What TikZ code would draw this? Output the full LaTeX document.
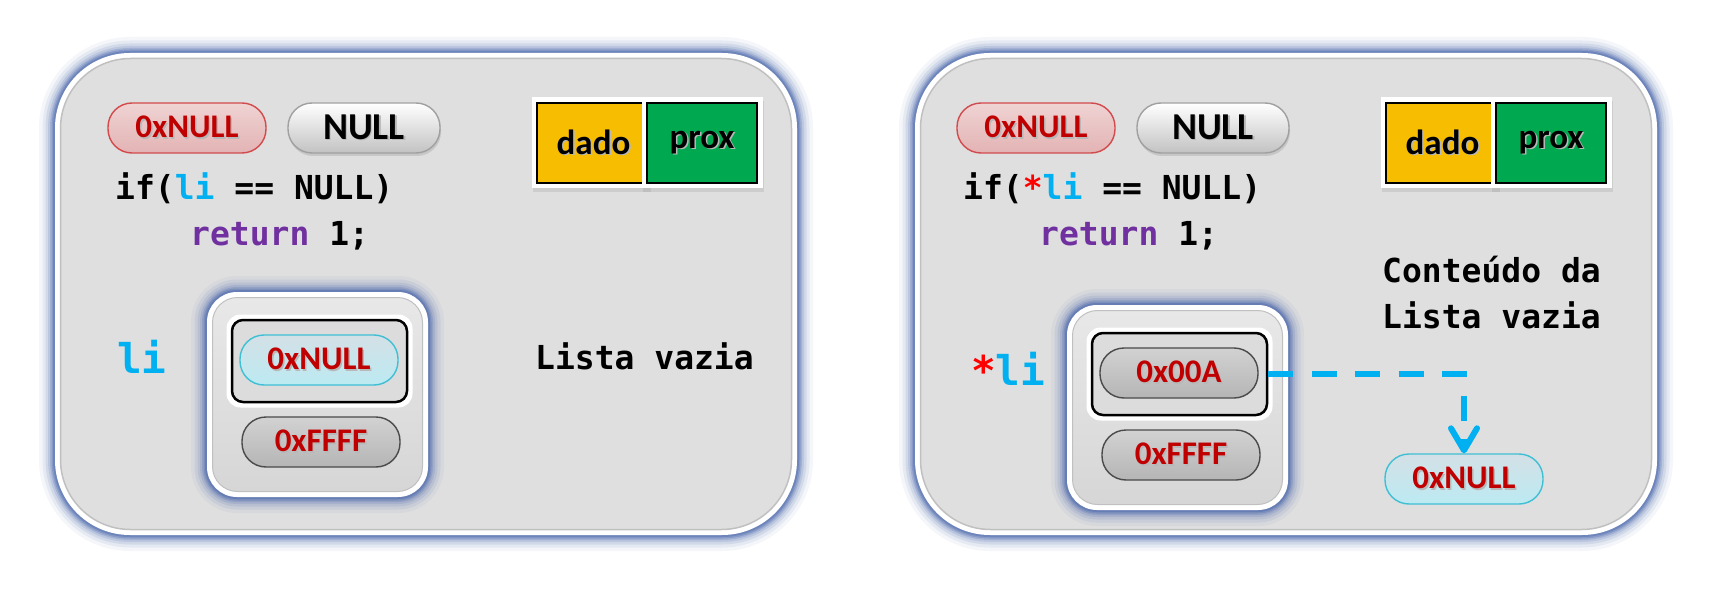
\documentclass[tikz,border=0pt]{standalone}
\usepackage{fontspec}
\setmainfont{Carlito}
\newfontfamily\codefont{DejaVu Sans Mono}
\usetikzlibrary{arrows.meta,shadows}
\definecolor{glowblue}{HTML}{4A68AC}
\definecolor{panelgray}{HTML}{DFDFDF}
\definecolor{paneledge}{HTML}{C0C0C0}
\definecolor{codeblue}{HTML}{00B0F0}
\definecolor{codepurple}{HTML}{7030A0}
\definecolor{darkred}{HTML}{C00000}
\definecolor{astred}{HTML}{FF0000}
\definecolor{dadoyellow}{HTML}{F7BD00}
\definecolor{proxgreen}{HTML}{00A850}
\definecolor{redpilltop}{HTML}{EFD3D3}
\definecolor{redpillbot}{HTML}{E3B3B4}
\definecolor{redpilledge}{HTML}{D24A4C}
\definecolor{cyantop}{HTML}{D3E0E6}
\definecolor{cyanbot}{HTML}{BCEAF2}
\definecolor{cyanedge}{HTML}{3FBFD4}
\definecolor{graytop}{HTML}{D2D2D2}
\definecolor{graybot}{HTML}{B5B5B5}
\definecolor{grayedge}{HTML}{4A4A4A}
\definecolor{nulltop}{HTML}{FFFFFF}
\definecolor{nullbot}{HTML}{C2C2C2}
\definecolor{nulledge}{HTML}{A0A0A0}
\definecolor{boxtop}{HTML}{E8E8E8}
\definecolor{boxbot}{HTML}{D6D6D6}
\definecolor{selfill}{HTML}{DCDCDC}

\newcommand\myglow[5]{%
  \foreach \w/\o in {32/0.06,25/0.09,19/0.12,14/0.16,10/0.22,7/0.3,4/0.42}{%
    \draw[glowblue, line width=\w pt, opacity=\o, rounded corners=#5pt] (#1,#2) rectangle (#3,#4);}}
\newcommand\shtxt[1]{\makebox[0pt][l]{\hspace{1.5pt}\raisebox{-1.5pt}{\color{black!28}#1}}#1}

\tikzset{
  pill/.style={rectangle, rounded corners=24pt, minimum width=158pt, minimum height=50pt,
    inner sep=0pt, line width=1.4pt, font=\fontsize{33}{33}\selectfont\bfseries, text=darkred},
  redpill/.style={pill, draw=redpilledge, top color=redpilltop, bottom color=redpillbot},
  nullpill/.style={pill, draw=nulledge, top color=nulltop, bottom color=nullbot, text=black,
    font=\fontsize{38}{38}\selectfont\bfseries,
    drop shadow={opacity=0.25, shadow xshift=1pt, shadow yshift=-3pt}},
  cyanpill/.style={pill, draw=cyanedge, top color=cyantop, bottom color=cyanbot},
  graypill/.style={pill, draw=grayedge, top color=graytop, bottom color=graybot},
  code/.style={font=\codefont\bfseries\fontsize{33}{40}\selectfont, anchor=base west, inner sep=0pt},
  biglabel/.style={font=\codefont\bfseries\fontsize{41}{48}\selectfont, anchor=base west,
    inner sep=0pt, text=codeblue},
  panelframe/.style={rectangle, rounded corners=75pt, fill=white, minimum width=742pt,
    minimum height=482pt, inner sep=0pt},
  panelfill/.style={rectangle, rounded corners=70pt, fill=panelgray, draw=paneledge,
    line width=1.5pt, minimum width=731pt, minimum height=471pt, inner sep=0pt},
  memframe/.style={rectangle, rounded corners=30pt, fill=white, minimum width=221pt,
    minimum height=205pt, inner sep=0pt},
  memfill/.style={rectangle, rounded corners=25pt, top color=boxtop, bottom color=boxbot,
    draw=paneledge, line width=1pt, minimum width=210pt, minimum height=194pt, inner sep=0pt},
  selframe/.style={rectangle, rounded corners=14pt, fill=white, minimum width=186pt,
    minimum height=93pt, inner sep=0pt},
  selbox/.style={rectangle, rounded corners=11pt, fill=selfill, draw=black, line width=2.5pt,
    minimum width=175pt, minimum height=82pt, inner sep=0pt},
  cellframe/.style={rectangle, fill=white, minimum height=91pt, inner sep=0pt,
    drop shadow={opacity=0.18, shadow xshift=1pt, shadow yshift=-4pt}},
  cell/.style={rectangle, draw=black, line width=2pt, minimum height=80pt, inner sep=0pt,
    font=\fontsize{35}{35}\selectfont\bfseries, text=black},
  connector/.style={codeblue, line width=6pt, dash pattern=on 25pt off 18.5pt,
    -{Straight Barb[length=22pt, width=26pt, round]}}
}

\begin{document}
\begin{tikzpicture}[x=1pt, y=-1pt]
\useasboundingbox (0,0) rectangle (1711,591);
\fill[white] (0,0) rectangle (1711,591);

% ---------------- left panel ----------------
\myglow{55}{53}{797}{535}{75}
\node[panelframe] (panelL) at (426,294) {};
\node[panelfill] (panelLin) at (426,294) {};

\node[redpill] (redL) at (187,128) {\shtxt{0xNULL}};
\node[nullpill, minimum width=152pt] (nullL) at (364,128) {\shtxt{NULL}};
\node[code] (ifL) at (115,200) {if(\textcolor{codeblue}{li} == NULL)};
\node[code] (retL) at (190,245) {\textcolor{codepurple}{return} 1;};

\node[cellframe, minimum width=118pt] (dadoLw) at (591,142.5) {};
\node[cell, fill=dadoyellow, minimum width=113pt] (dadoL) at (593.5,143) {\shtxt{dado}};
\node[cellframe, minimum width=121pt] (proxLw) at (702.5,142.5) {};
\node[cell, fill=proxgreen, minimum width=110pt] (proxL) at (702,143) {\shtxt{prox}};

\node[biglabel] (liL) at (117,373) {li};
\myglow{207}{292}{428}{497}{30}
\node[memframe] (memL) at (317.5,394.5) {};
\node[memfill] (memLin) at (317.5,394.5) {};
\node[selframe] (selLw) at (319.5,361) {};
\node[selbox] (selL) at (319.5,361) {};
\node[cyanpill] (cyanL) at (319,360) {\shtxt{0xNULL}};
\node[graypill] (ffffL) at (321,442) {\shtxt{0xFFFF}};

\node[code] (vaziaL) at (535,369) {Lista vazia};

% ---------------- right panel ----------------
\myglow{915}{53}{1657}{535}{75}
\node[panelframe] (panelR) at (1286,294) {};
\node[panelfill] (panelRin) at (1286,294) {};

\node[redpill] (redR) at (1036,128) {\shtxt{0xNULL}};
\node[nullpill, minimum width=152pt] (nullR) at (1213,128) {\shtxt{NULL}};
\node[code] (ifR) at (963,200) {if(\textcolor{astred}{*}\textcolor{codeblue}{li} == NULL)};
\node[code] (retR) at (1039,245) {\textcolor{codepurple}{return} 1;};

\node[cellframe, minimum width=118pt] (dadoRw) at (1440,142.5) {};
\node[cell, fill=dadoyellow, minimum width=113pt] (dadoR) at (1442.5,143) {\shtxt{dado}};
\node[cellframe, minimum width=121pt] (proxRw) at (1551.5,142.5) {};
\node[cell, fill=proxgreen, minimum width=110pt] (proxR) at (1551,143) {\shtxt{prox}};

\node[code] (contR) at (1382,282) {Conteúdo da};
\node[code] (vaziaR) at (1382,328) {Lista vazia};

\node[biglabel] (liR) at (971,385) {\textcolor{astred}{*}li};
\myglow{1067}{305}{1288}{510}{30}
\node[memframe] (memR) at (1177.5,407.5) {};
\node[memfill] (memRin) at (1177.5,407.5) {};
\node[selframe] (selRw) at (1179.5,374) {};
\node[selbox] (selR) at (1179.5,374) {};
\node[graypill] (addrR) at (1179,373) {\shtxt{0x00A}};
\node[graypill] (ffffR) at (1181,455) {\shtxt{0xFFFF}};

\node[cyanpill] (cyanR) at (1464,479) {\shtxt{0xNULL}};

\draw[connector] (selR.east) -| (cyanR.north);
\end{tikzpicture}
\end{document}
